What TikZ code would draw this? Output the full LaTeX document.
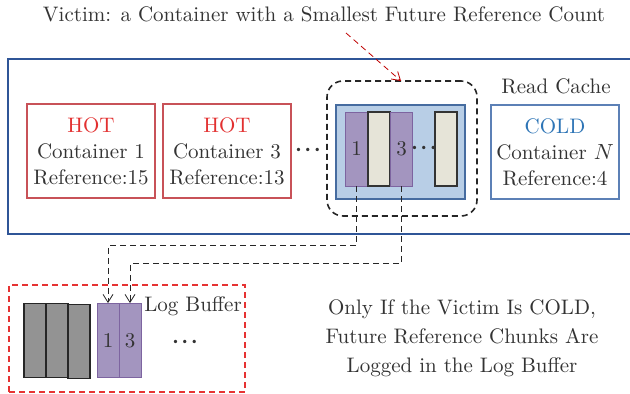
\documentclass[tikz,border=0pt]{standalone}
\usepackage{amsmath}
\usepackage{xcolor}
\usepackage{tikz}
\usetikzlibrary{arrows.meta,positioning}

\definecolor{hotred}{RGB}{226,48,48}
\definecolor{hotline}{RGB}{200,82,88}
\definecolor{cacheline}{RGB}{47,85,151}
\definecolor{coldblue}{RGB}{46,117,182}
\definecolor{coldline}{RGB}{92,128,182}
\definecolor{victimfill}{RGB}{184,206,230}
\definecolor{victimline}{RGB}{70,108,160}
\definecolor{chunkpurple}{RGB}{163,149,191}
\definecolor{purpleline}{RGB}{125,100,160}
\definecolor{chunkbeige}{RGB}{230,228,216}
\definecolor{chunkgray}{RGB}{147,147,147}
\definecolor{logred}{RGB}{230,50,50}

\newcommand{\tightdots}{$\boldsymbol{\cdot}\mkern-2mu\boldsymbol{\cdot}\mkern-2mu\boldsymbol{\cdot}$}

\tikzset{
  txt/.style={font=\fontsize{10.5pt}{13pt}\selectfont, text=black!80},
  hotbox/.style={txt, draw=hotline, thick, minimum width=64pt, minimum height=47pt, align=center, inner sep=0pt},
  coldbox/.style={hotbox, draw=coldline},
  chunk/.style={draw=purpleline, fill=chunkpurple, minimum width=11pt, minimum height=37pt, inner sep=0pt, txt},
  blank/.style={chunk, draw=black!80, fill=chunkbeige, semithick},
  old/.style={chunk, draw=black!85, fill=chunkgray, semithick},
  vhead/.style={-{Straight Barb[length=4pt,width=5pt]}},
  link/.style={densely dashed, black!85, vhead},
}

\begin{document}
\begin{tikzpicture}[x=0.5pt,y=-0.5pt]
\useasboundingbox (0,0) rectangle (630,394);
\node[txt] (title) at (324,14) {Victim: a Container with a Smallest Future Reference Count};

% read cache
\draw[cacheline, thick] (630,59) -- (8,59) -- (8,234) -- (630,234);
\node[txt] (rc) at (556,86) {Read Cache};
\node[hotbox] (c1) at (91,151) {\textcolor{hotred}{HOT}\\Container 1\\Reference:15};
\node[hotbox] (c3) at (227,151) {\textcolor{hotred}{HOT}\\Container 3\\Reference:13};
\node[txt] (d1) at (308,150) {\tightdots};
\node[coldbox] (cn) at (555,152) {\textcolor{coldblue}{COLD}\\Container $N$\\Reference:4};

% victim
\node[draw=victimline, thick, fill=victimfill, minimum width=64.5pt, minimum height=47pt, inner sep=0pt] (vic) at (400.5,152) {};
\node[draw=black!85, densely dashed, thick, rounded corners=8pt, minimum width=75pt, minimum height=67.5pt] (sel) at (402,148.5) {};
\node[chunk] (v1) at (356.5,149) {1};
\node[blank] (v2) at (379,149) {};
\node[chunk] (v3) at (401.5,149) {3};
\node[txt] (d2) at (424,148) {\tightdots};
\node[blank] (v4) at (446,149) {};
\coordinate (src) at (346,33);
\coordinate (tip) at (401,81);
\draw[red!75!black, densely dashed, vhead] (src) -- (tip);

% log buffer
\node[draw=logred, densely dashed, thick, minimum width=118pt, minimum height=53.5pt] (lb) at (127,338.5) {};
\node[old] (g1) at (35,340.5) {};
\node[old] (g2) at (57,340.5) {};
\node[old] (g3) at (79,341.5) {};
\node[chunk] (l1) at (108,340.5) {1};
\node[chunk] (l3) at (130,340.5) {3};
\node[txt] (lbl) at (193,306) {Log Buffer};
\node[txt] (d3) at (185,342) {\tightdots};
\draw[link] (v1.south) -- ++(0,59) -| (l1.north);
\draw[link] (v3.south) -- ++(0,77) -| (l3.north);

\node[txt, align=center, font=\fontsize{10.5pt}{14.5pt}\selectfont] (note) at (462,338) {Only If the Victim Is COLD,\\Future Reference Chunks Are\\Logged in the Log Buffer};
\end{tikzpicture}
\end{document}
